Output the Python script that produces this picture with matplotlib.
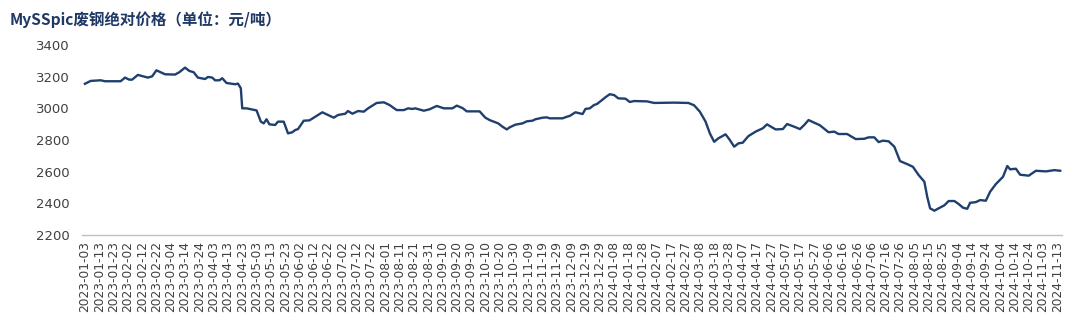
import matplotlib
matplotlib.use("Agg")
import matplotlib.pyplot as plt
import matplotlib.dates as mdates
import pandas as pd

plt.rcParams['font.family'] = ['Noto Sans CJK SC', 'DejaVu Sans']

title = "MySSpic废钢绝对价格（单位：元/吨）"

dates = [
    "2023-01-03", "2023-01-07", "2023-01-14", "2023-01-17", "2023-01-28", "2023-01-31",
    "2023-02-03", "2023-02-05", "2023-02-09", "2023-02-16", "2023-02-19", "2023-02-22",
    "2023-02-28", "2023-03-07", "2023-03-10", "2023-03-14", "2023-03-17", "2023-03-20",
    "2023-03-23", "2023-03-28", "2023-03-30", "2023-04-02", "2023-04-04", "2023-04-07",
    "2023-04-09", "2023-04-12", "2023-04-18", "2023-04-20", "2023-04-22", "2023-04-23",
    "2023-04-26", "2023-05-03", "2023-05-06", "2023-05-08", "2023-05-10", "2023-05-12",
    "2023-05-16", "2023-05-18", "2023-05-22", "2023-05-25", "2023-05-28", "2023-05-30",
    "2023-06-01", "2023-06-05", "2023-06-09", "2023-06-13", "2023-06-18", "2023-06-22",
    "2023-06-26", "2023-06-29", "2023-07-04", "2023-07-06", "2023-07-09", "2023-07-13",
    "2023-07-17", "2023-07-20", "2023-07-26", "2023-07-31", "2023-08-04", "2023-08-09",
    "2023-08-14", "2023-08-17", "2023-08-20", "2023-08-22", "2023-08-28", "2023-09-01",
    "2023-09-06", "2023-09-11", "2023-09-17", "2023-09-20", "2023-09-24", "2023-09-27",
    "2023-10-06", "2023-10-10", "2023-10-13", "2023-10-19", "2023-10-22", "2023-10-25",
    "2023-10-27", "2023-10-31", "2023-11-05", "2023-11-08", "2023-11-12", "2023-11-14",
    "2023-11-19", "2023-11-22", "2023-11-24", "2023-12-03", "2023-12-06", "2023-12-08",
    "2023-12-12", "2023-12-17", "2023-12-19", "2023-12-22", "2023-12-25", "2023-12-27",
    "2023-12-30", "2024-01-02", "2024-01-05", "2024-01-08", "2024-01-11", "2024-01-16",
    "2024-01-19", "2024-01-22", "2024-01-31", "2024-02-05", "2024-02-19", "2024-02-29",
    "2024-03-04", "2024-03-08", "2024-03-12", "2024-03-15", "2024-03-18", "2024-03-21",
    "2024-03-26", "2024-03-29", "2024-04-01", "2024-04-04", "2024-04-07", "2024-04-08",
    "2024-04-11", "2024-04-16", "2024-04-21", "2024-04-24", "2024-04-26", "2024-04-30",
    "2024-05-05", "2024-05-08", "2024-05-13", "2024-05-17", "2024-05-20", "2024-05-23",
    "2024-05-28", "2024-05-31", "2024-06-06", "2024-06-10", "2024-06-13", "2024-06-19",
    "2024-06-25", "2024-07-01", "2024-07-04", "2024-07-08", "2024-07-11", "2024-07-14",
    "2024-07-18", "2024-07-22", "2024-07-26", "2024-07-31", "2024-08-04", "2024-08-08",
    "2024-08-12", "2024-08-14", "2024-08-16", "2024-08-19", "2024-08-22", "2024-08-26",
    "2024-08-29", "2024-09-02", "2024-09-05", "2024-09-08", "2024-09-11", "2024-09-13",
    "2024-09-17", "2024-09-20", "2024-09-24", "2024-09-27", "2024-10-01", "2024-10-06",
    "2024-10-09", "2024-10-11", "2024-10-15", "2024-10-18", "2024-10-24", "2024-10-29",
    "2024-11-05", "2024-11-11", "2024-11-15",
]

prices = [
    3155, 3173, 3177, 3171, 3171, 3194,
    3181, 3181, 3211, 3194, 3202, 3240,
    3215, 3213, 3228, 3257, 3236, 3228,
    3194, 3185, 3198, 3194, 3177, 3177,
    3190, 3160, 3152, 3156, 3127, 3000,
    3000, 2987, 2916, 2905, 2931, 2899,
    2895, 2916, 2916, 2842, 2849, 2863,
    2869, 2922, 2924, 2947, 2975, 2958,
    2941, 2958, 2966, 2983, 2966, 2983,
    2979, 3000, 3034, 3038, 3021, 2989,
    2989, 3000, 2996, 3000, 2985, 2994,
    3015, 3000, 3000, 3017, 3002, 2981,
    2981, 2941, 2926, 2905, 2884, 2867,
    2880, 2897, 2905, 2918, 2922, 2931,
    2941, 2943, 2937, 2937, 2947, 2952,
    2975, 2964, 2996, 3000, 3021, 3027,
    3048, 3070, 3089, 3084, 3063, 3061,
    3040, 3046, 3044, 3034, 3036, 3034,
    3019, 2979, 2916, 2842, 2789, 2811,
    2836, 2800, 2758, 2779, 2783, 2794,
    2825, 2853, 2874, 2899, 2888, 2867,
    2869, 2901, 2884, 2869, 2895, 2926,
    2905, 2893, 2849, 2853, 2838, 2838,
    2806, 2808, 2817, 2817, 2787, 2796,
    2792, 2758, 2667, 2648, 2631, 2579,
    2537, 2442, 2369, 2354, 2369, 2388,
    2415, 2415, 2396, 2373, 2366, 2404,
    2408, 2421, 2417, 2474, 2522, 2568,
    2636, 2615, 2619, 2581, 2575, 2606,
    2602, 2610, 2606,
]

tick_start = "2023-01-03"
tick_end = "2024-11-13"
y_ticks = [2200, 2400, 2600, 2800, 3000, 3200, 3400]

x = pd.to_datetime(dates)
tick_dates = pd.date_range(tick_start, tick_end, freq="10D")

fig = plt.figure(figsize=(10.8, 3.33), dpi=100)
ax = fig.add_axes([0.076, 0.294, 0.907, 0.571])

ax.plot(x, prices, color="#1f3f6e", linewidth=1.7)

ax.set_ylim(2200, 3400)
ax.set_yticks(y_ticks)
ax.set_xlim(pd.Timestamp("2023-01-01"), pd.Timestamp("2024-11-16"))
ax.set_xticks(tick_dates)
ax.set_xticklabels([d.strftime("%Y-%m-%d") for d in tick_dates], rotation=90,
                   fontsize=8.8, color="#404040", family="DejaVu Sans")
for lab in ax.get_yticklabels():
    lab.set_fontsize(9.5)
    lab.set_color("#404040")
    lab.set_family("DejaVu Sans")

ax.tick_params(axis="both", length=0)
ax.tick_params(axis="x", pad=4)
ax.tick_params(axis="y", pad=9)
for s in ["top", "right", "left"]:
    ax.spines[s].set_visible(False)
ax.spines["bottom"].set_color("#bfbfbf")
ax.spines["bottom"].set_linewidth(1.0)

fig.text(0.009, 0.94, title, fontsize=11.2, fontweight="bold", color="#1f3864",
         ha="left", va="center")

fig.savefig("out.png", dpi=100, facecolor="white")
